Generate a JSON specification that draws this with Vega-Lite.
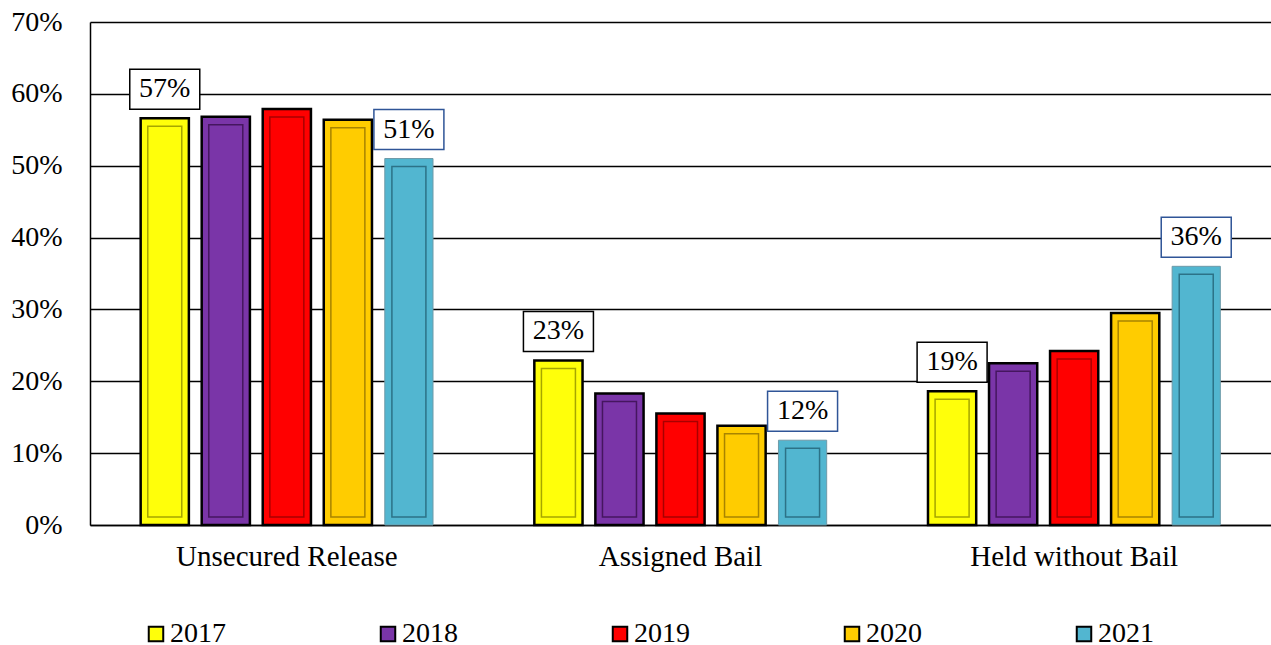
{
  "$schema": "https://vega.github.io/schema/vega-lite/v6.json",
  "autosize": {"type": "none"},
  "padding": {"left": 90, "top": 22, "right": 0, "bottom": 120},
  "width": 1181,
  "height": 503,
  "background": "white",
  "config": {
    "view": {"stroke": null},
    "font": "Liberation Serif"
  },
  "data": {
    "values": [
      {"group": "Unsecured Release", "year": "2017", "value": 0.566},
      {"group": "Unsecured Release", "year": "2018", "value": 0.568},
      {"group": "Unsecured Release", "year": "2019", "value": 0.579},
      {"group": "Unsecured Release", "year": "2020", "value": 0.564},
      {"group": "Unsecured Release", "year": "2021", "value": 0.510},
      {"group": "Assigned Bail", "year": "2017", "value": 0.229},
      {"group": "Assigned Bail", "year": "2018", "value": 0.183},
      {"group": "Assigned Bail", "year": "2019", "value": 0.155},
      {"group": "Assigned Bail", "year": "2020", "value": 0.138},
      {"group": "Assigned Bail", "year": "2021", "value": 0.118},
      {"group": "Held without Bail", "year": "2017", "value": 0.186},
      {"group": "Held without Bail", "year": "2018", "value": 0.225},
      {"group": "Held without Bail", "year": "2019", "value": 0.242},
      {"group": "Held without Bail", "year": "2020", "value": 0.295},
      {"group": "Held without Bail", "year": "2021", "value": 0.360}
    ]
  },
  "encoding": {
    "x": {
      "field": "group", "type": "nominal",
      "sort": ["Unsecured Release", "Assigned Bail", "Held without Bail"],
      "scale": {"paddingInner": 0, "paddingOuter": 0},
      "axis": {
        "title": null, "labelAngle": 0, "labelFont": "Liberation Serif", "labelFontSize": 29,
        "labelColor": "#000000", "labelPadding": 17, "labelLimit": 0, "ticks": false, "tickSize": 0,
        "domain": true, "domainColor": "#000000", "domainWidth": 1.5, "grid": false
      }
    },
    "xOffset": {
      "field": "year", "type": "nominal",
      "scale": {"paddingInner": 0.21, "paddingOuter": 0.83}
    },
    "y": {
      "field": "value", "type": "quantitative",
      "scale": {"domain": [0, 0.7], "nice": false},
      "axis": {
        "title": null, "format": ".0%", "values": [0, 0.1, 0.2, 0.3, 0.4, 0.5, 0.6, 0.7],
        "labelFont": "Liberation Serif", "labelFontSize": 28, "labelColor": "#000000",
        "labelPadding": 28, "ticks": false, "tickSize": 0,
        "domain": true, "domainColor": "#000000", "domainWidth": 1.5,
        "grid": true, "gridColor": "#000000", "gridWidth": 1.5, "gridOpacity": 1
      }
    }
  },
  "layer": [
    {
      "mark": {"type": "bar"},
      "encoding": {
        "color": {
          "field": "year", "type": "nominal",
          "scale": {
            "domain": ["2017", "2018", "2019", "2020", "2021"],
            "range": ["#FFFF0A", "#7A35A8", "#FF0000", "#FFCC00", "#52B6D0"]
          },
          "legend": {
            "title": null, "orient": "none", "direction": "horizontal", "columns": 5,
            "legendX": 52, "legendY": 598, "columnPadding": 148,
            "symbolType": "square", "symbolSize": 210, "symbolStrokeColor": "#000000",
            "symbolStrokeWidth": 2, "symbolOpacity": 1,
            "labelFont": "Liberation Serif", "labelFontSize": 28, "labelColor": "#000000",
            "labelOffset": 0, "labelLimit": 0
          }
        },
        "stroke": {
          "condition": {"test": "datum.year == '2021'", "value": "#6E9AA8"},
          "value": "#000000"
        },
        "strokeWidth": {
          "condition": {"test": "datum.year == '2021'", "value": 1},
          "value": 2.5
        }
      }
    },
    {
      "mark": {"type": "bar", "width": 34, "yOffset": 8, "y2Offset": -8, "strokeWidth": 1.5, "fillOpacity": 0},
      "encoding": {
        "y2": {"datum": 0},
        "stroke": {
          "condition": [
            {"test": "datum.year == '2017'", "value": "#A6A600"},
            {"test": "datum.year == '2018'", "value": "#45165F"},
            {"test": "datum.year == '2019'", "value": "#A80000"},
            {"test": "datum.year == '2020'", "value": "#A88400"}
          ],
          "value": "#2C7287"
        }
      }
    },
    {
      "transform": [{"filter": "datum.year == '2017' || datum.year == '2021'"}],
      "mark": {
        "type": "point",
        "shape": "M-1.75,-2.45H1.75V-0.45H-1.75Z",
        "size": 1600, "filled": false, "fill": "#FFFFFF", "fillOpacity": 1,
        "strokeWidth": 1.5, "opacity": 1
      },
      "encoding": {
        "stroke": {
          "condition": {"test": "datum.year == '2021'", "value": "#2F5597"},
          "value": "#000000"
        }
      }
    },
    {
      "transform": [{"filter": "datum.year == '2017' || datum.year == '2021'"}],
      "mark": {
        "type": "text", "dy": -29, "baseline": "middle", "align": "center",
        "font": "Liberation Serif", "fontSize": 28, "color": "#000000"
      },
      "encoding": {
        "text": {"field": "value", "type": "quantitative", "format": ".0%"}
      }
    }
  ]
}
